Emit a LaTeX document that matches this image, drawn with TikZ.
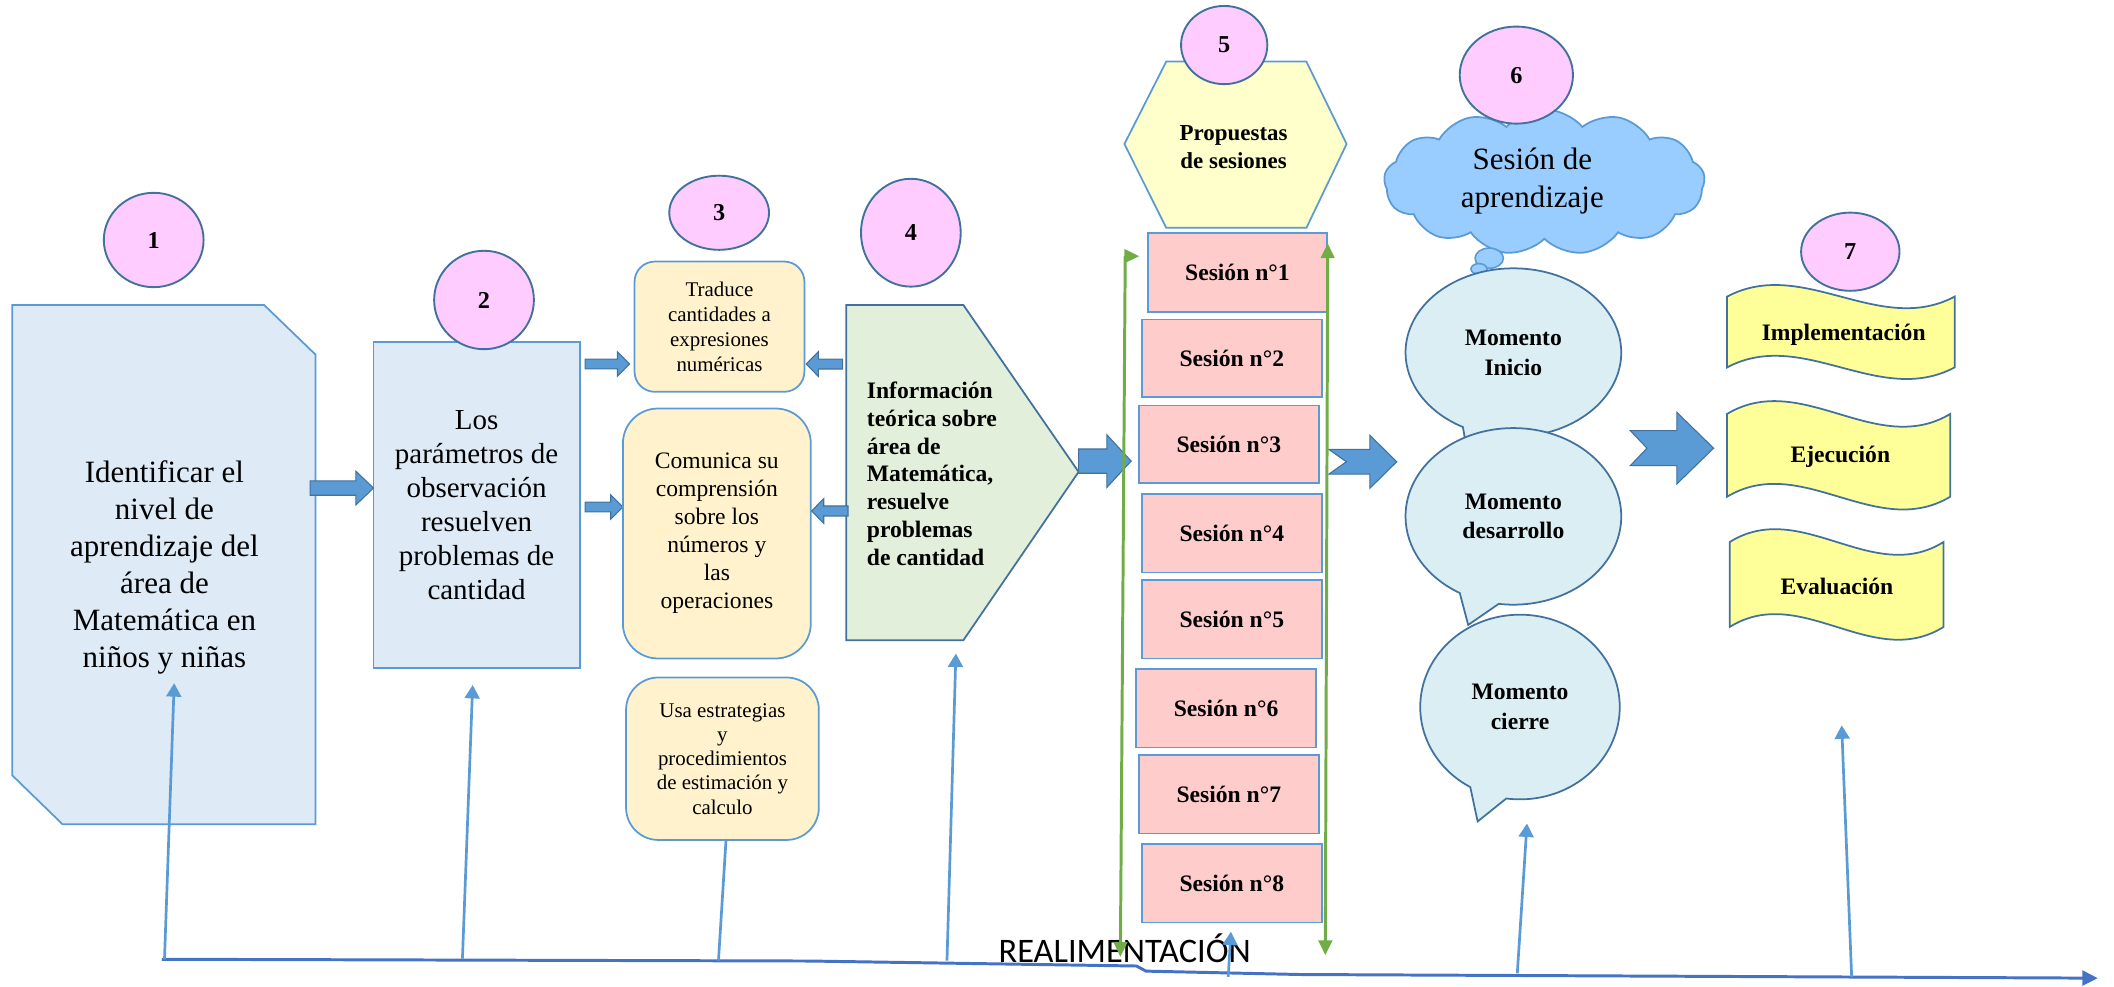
\documentclass[tikz,border=0pt]{standalone}
\usepackage{fontspec}
\setmainfont{Liberation Serif}
\newfontfamily\calibrifont{Carlito}
\usetikzlibrary{shapes.geometric,shapes.symbols,shapes.callouts,arrows.meta}
\definecolor{pinkfill}{HTML}{FFCCFF}
\definecolor{darkblue}{HTML}{41719C}
\definecolor{midblue}{HTML}{5B9BD5}
\definecolor{lightblue}{HTML}{DEEBF7}
\definecolor{cream}{HTML}{FFF2CC}
\definecolor{lightgreen}{HTML}{E2EFDA}
\definecolor{paleyellow}{HTML}{FFFFCC}
\definecolor{sesionpink}{HTML}{FFCCCC}
\definecolor{cloudblue}{HTML}{99CCFF}
\definecolor{bubblecyan}{HTML}{DAEEF3}
\definecolor{banneryellow}{HTML}{FFFF99}
\definecolor{greenline}{HTML}{70AD47}
\definecolor{fbblue}{HTML}{4472C4}
\newcommand\fsz[2]{\fontsize{#1}{#2}\selectfont}
% tail, head base, tip, y, shaft half, head half
\newcommand\blockarr[6]{\path[barr] (#1,#4-#5) -- (#2,#4-#5) -- (#2,#4-#6) -- (#3,#4) -- (#2,#4+#6) -- (#2,#4+#5) -- (#1,#4+#5) -- cycle;}
% tail, notch, head base, tip, y, shaft half, head half
\newcommand\notcharr[7]{\path[barr] (#1,#5-#6) -- (#3,#5-#6) -- (#3,#5-#7) -- (#4,#5) -- (#3,#5+#7) -- (#3,#5+#6) -- (#1,#5+#6) -- (#2,#5) -- cycle;}
% left, right, top, bottom, wave
\newcommand\bannerpath[5]{\path[ban] (#1,#3) .. controls ({#1+(#2-#1)/3},{#3-#5}) and ({#1+2*(#2-#1)/3},{#3+#5}) .. (#2,#3) -- (#2,#4) .. controls ({#1+2*(#2-#1)/3},{#4+#5}) and ({#1+(#2-#1)/3},{#4-#5}) .. (#1,#4) -- cycle;}
\begin{document}
\begin{tikzpicture}[x=1pt,y=-1pt,
  every node/.style={inner sep=0pt, outer sep=0pt},
  num/.style={ellipse, draw=darkblue, fill=pinkfill, line width=1.4pt, font=\fsz{18}{20}\bfseries},
  pale/.style={draw=midblue, fill=lightblue, line width=1.3pt},
  crm/.style={rectangle, draw=midblue, fill=cream, line width=1.3pt, align=center},
  ses/.style={rectangle, draw=midblue, fill=sesionpink, line width=1.3pt, font=\fsz{17.5}{20}\bfseries},
  bub/.style={ellipse callout, draw=darkblue, fill=bubblecyan, line width=1.3pt, align=center, font=\fsz{17.5}{22}\bfseries, callout pointer arc=22},
  ban/.style={draw=darkblue, fill=banneryellow, line width=1.3pt},
  bantext/.style={font=\fsz{17.5}{20}\bfseries},
  barr/.style={draw=darkblue, fill=midblue, line width=0.8pt},
  fb/.style={draw=midblue, line width=2pt},
  fbtip/.style={-{Triangle[width=11pt,length=10pt]}},
  grn/.style={draw=greenline, line width=2.2pt, {Triangle[width=10pt,length=11pt]}-{Triangle[width=10pt,length=11pt]}},
]
\useasboundingbox (0,0) rectangle (1568,732);

% ---- 1 ----
\path[pale] (9,226.3) -- (196,226.3) -- (234,263) -- (234,611.3) -- (46.3,611.3) -- (9,575) -- cycle;
\node[align=center, font=\fsz{23}{27.5}] (t1) at (122,421) {Identificar el\\nivel de\\aprendizaje del\\área de\\Matemática en\\niños y niñas};
\node[num, minimum width=74, minimum height=70] (n1) at (114,178) {1};

% ---- 2 ----
\node[rectangle, pale, minimum width=153, minimum height=242, align=center, font=\fsz{21.5}{25.1}] (b2) at (353.5,374.7) {Los\\parámetros de\\observación\\resuelven\\problemas de\\cantidad};
\node[num, minimum width=74, minimum height=73] (n2) at (359,222.5) {2};
\blockarr{230}{264}{277}{362}{5.3}{12.5}
\blockarr{434}{458}{467}{270}{3.6}{9}
\blockarr{434}{453}{462}{376}{3.6}{9}

% ---- 3 ----
\node[crm, rounded corners=15, minimum width=126, minimum height=96.6, font=\fsz{15.5}{18.4}] (b3a) at (533.65,242.3) {Traduce\\cantidades a\\expresiones\\numéricas};
\node[crm, rounded corners=26, minimum width=139.4, minimum height=185.4, font=\fsz{17.5}{20.8}] (b3b) at (531.7,395.7) {Comunica su\\comprensión\\sobre los\\números y\\las\\operaciones};
\node[crm, rounded corners=24, minimum width=143, minimum height=120.5, font=\fsz{15.5}{18}] (b3c) at (535.85,562.75) {Usa estrategias\\y\\procedimientos\\de estimación y\\calculo};
\node[num, minimum width=74, minimum height=55] (n3) at (533.4,157.8) {3};

% ---- 4 ----
\path[draw=darkblue, fill=lightgreen, line width=1.3pt] (627.6,226.3) -- (714.6,226.3) -- (800,350) -- (714.6,474.8) -- (627.6,474.8) -- cycle;
\node[anchor=west, align=left, font=\fsz{17.5}{20.7}\bfseries] (t4) at (643,351.4) {Información\\teórica sobre\\área de\\Matemática,\\resuelve\\problemas\\de cantidad};
\node[num, minimum width=74, minimum height=80] (n4) at (675.6,172.6) {4};
\blockarr{625}{607}{598}{270}{3.7}{9.2}
\blockarr{629}{611}{602}{379}{3.7}{9.2}
\blockarr{800}{821}{839}{342}{9}{19.5}

% ---- 5 ----
\path[draw=midblue, fill=paleyellow, line width=1.3pt] (865,45.7) -- (969,45.7) -- (998.8,106.8) -- (969,169) -- (865,169) -- (834,106.8) -- cycle;
\node[align=center, font=\fsz{17}{21}\bfseries] (t5) at (915,109) {Propuestas\\de sesiones};
\node[num, minimum width=64, minimum height=58] (n5) at (908,33.4) {5};
\node[ses, minimum width=133, minimum height=58.2] (s1) at (917.8,202.1) {Sesión n°1};
\node[ses, minimum width=133.3, minimum height=57.8] (s2) at (913.65,265.8) {Sesión n°2};
\node[ses, minimum width=133.5, minimum height=57.8] (s3) at (911.45,329.6) {Sesión n°3};
\node[ses, minimum width=133.3, minimum height=58.1] (s4) at (913.65,395.55) {Sesión n°4};
\node[ses, minimum width=133.3, minimum height=58.1] (s5) at (913.65,459.35) {Sesión n°5};
\node[ses, minimum width=133.8, minimum height=58.1] (s6) at (909.4,525.35) {Sesión n°6};
\node[ses, minimum width=133.5, minimum height=58.2] (s7) at (911.45,589.1) {Sesión n°7};
\node[ses, minimum width=133.3, minimum height=58.2] (s8) at (913.65,655.1) {Sesión n°8};

% ---- 6 ----
\node[cloud, cloud puffs=13, cloud puff arc=100, aspect=2.2, draw=midblue, fill=cloudblue, line width=1.3pt, minimum width=238, minimum height=108] (cloud) at (1145.5,135) {};
\node[align=center, font=\fsz{23}{28}] (t6) at (1136.6,134.4) {Sesión de\\aprendizaje};
\node[ellipse, draw=midblue, fill=cloudblue, line width=1.2pt, minimum width=21, minimum height=15] (th1) at (1104.6,191.5) {};
\node[ellipse, draw=midblue, fill=cloudblue, line width=1.2pt, minimum width=12, minimum height=8] (th2) at (1097,199.5) {};
\node[num, minimum width=84, minimum height=72] (n6) at (1124.7,55.7) {6};
\node[bub, minimum width=160, minimum height=125, callout absolute pointer={(1090,345)}] (m1) at (1122.5,261.5) {Momento\\Inicio};
\node[bub, minimum width=160, minimum height=131, callout absolute pointer={(1089,463.5)}] (m2) at (1122.5,383) {Momento\\desarrollo};
\node[bub, minimum width=148, minimum height=137, callout absolute pointer={(1096,609.3)}] (m3) at (1127.4,524.4) {Momento\\cierre};
\notcharr{985.6}{998.6}{1016}{1036}{342.5}{9.2}{19.7}
\notcharr{1209.2}{1221.6}{1243.8}{1271}{332.4}{13}{26.5}

% ---- 7 ----
\bannerpath{1281}{1449.8}{220}{272.5}{29.8}
\node[bantext] (e1) at (1367.5,248.5) {Implementación};
\bannerpath{1281}{1446.6}{307}{368.4}{32.9}
\node[bantext] (e2) at (1365,338.8) {Ejecución};
\bannerpath{1283}{1441.6}{402}{465}{32.9}
\node[bantext] (e3) at (1362.5,435.2) {Evaluación};
\node[num, minimum width=73, minimum height=58] (n7) at (1372.4,186.7) {7};

% ---- feedback ----
\node[font=\calibrifont\fsz{25.5}{28}] (real) at (834.2,703.5) {REALIMENTACIÓN};
\coordinate (fbstart) at (120,711.5);
\coordinate (fbend) at (1556,725.5);
\draw[draw=fbblue, line width=2.2pt, -{Triangle[width=11pt,length=11.5pt]}] (fbstart) -- (600,712.8) -- (843,716.5) -- (850,720.3) -- (964,722.8) -- (fbend);

\coordinate (f1a) at (122,711.5);   \coordinate (f1b) at (129.2,506.7);
\coordinate (f2a) at (343,711);     \coordinate (f2b) at (350.6,508);
\coordinate (f3a) at (532.9,712.5); \coordinate (f3b) at (538.5,623);
\coordinate (f4a) at (702.4,712.5); \coordinate (f4b) at (709,484.7);
\coordinate (f5a) at (911,724.5);   \coordinate (f5b) at (913,691);
\coordinate (f6a) at (1125.4,722);  \coordinate (f6b) at (1132.6,610.8);
\coordinate (f7a) at (1373.4,724.5);\coordinate (f7b) at (1366,538);
\draw[fb, fbtip] (f1a) -- (f1b);
\draw[fb, fbtip] (f2a) -- (f2b);
\draw[fb] (f3a) -- (f3b);
\draw[fb, fbtip] (f4a) -- (f4b);
\draw[fb, fbtip] (f5a) -- (f5b);
\draw[fb, fbtip] (f6a) -- (f6b);
\draw[fb, fbtip] (f7a) -- (f7b);

% ---- green arrows ----
\coordinate (gl1) at (831,709.7);
\coordinate (gl2) at (834.6,190);
\coordinate (gl3) at (845,190);
\coordinate (gr1) at (984.8,180.5);
\coordinate (gr2) at (983,708.5);
\draw[grn] (gl1) -- (gl2) -- (gl3);
\draw[grn] (gr1) -- (gr2);
\end{tikzpicture}
\end{document}
